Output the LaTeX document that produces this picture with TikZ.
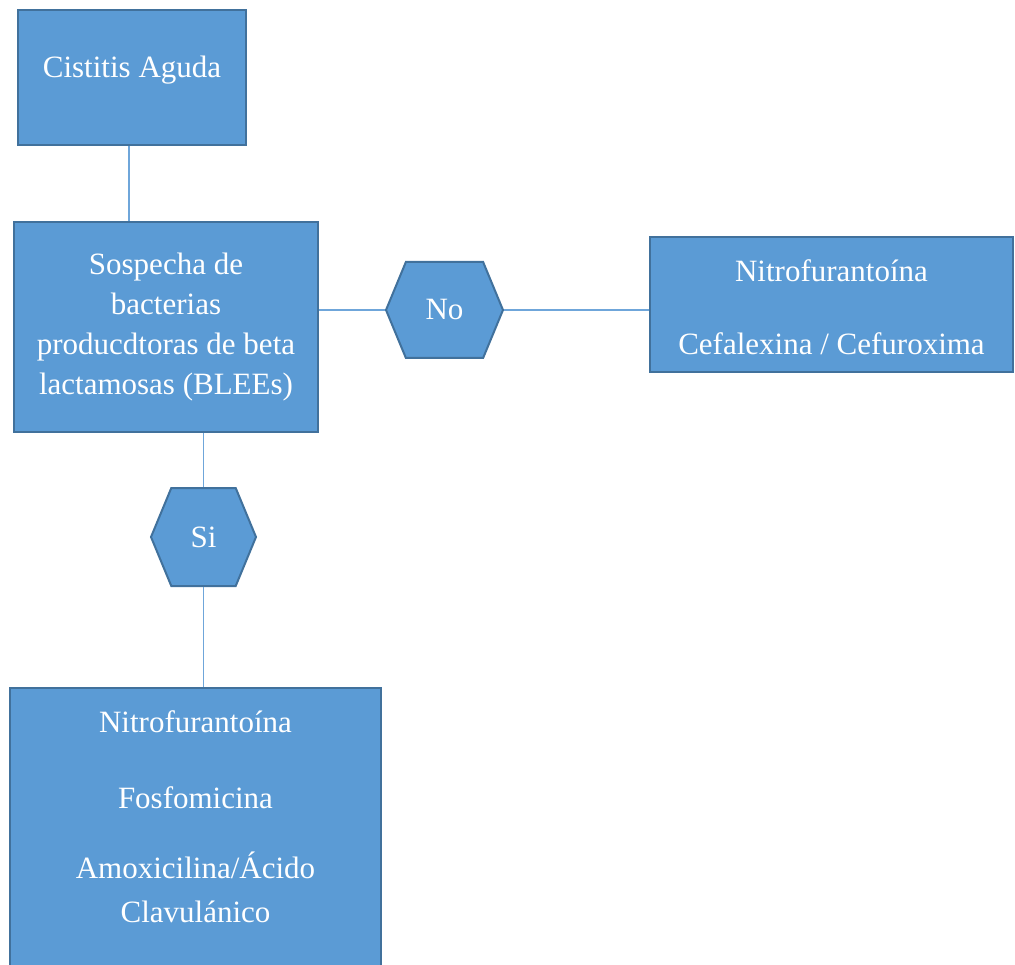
\documentclass[tikz,border=0pt]{standalone}
\usepackage{fontspec}
\setmainfont{Liberation Serif}
\usetikzlibrary{shapes.symbols}
\definecolor{boxfill}{HTML}{5B9BD5}
\definecolor{boxline}{HTML}{41719C}
\definecolor{conn}{HTML}{6FA6DA}
\tikzset{
  box/.style={rectangle, draw=boxline, fill=boxfill, line width=2pt, text=white,
    align=center, inner sep=0pt, font=\fontsize{31}{40}\selectfont},
  hexa/.style={signal, signal to=east and west, signal pointer angle=135,
    draw=boxline, fill=boxfill, line width=2pt, text=white, inner sep=0pt,
    font=\fontsize{31}{40}\selectfont},
  link/.style={draw=conn, line width=1.8pt}
}
\begin{document}
\begin{tikzpicture}[x=1pt,y=-1pt]
\useasboundingbox (0,0) rectangle (1015,965);
\node[box, minimum width=228pt, minimum height=135pt, text height=10pt, text depth=10pt] (cist) at (132,77.5) {Cistitis Aguda};
\node[box, minimum width=304pt, minimum height=210pt] (sosp) at (166,327)
  {Sospecha de\\bacterias\\producdtoras de beta\\lactamosas (BLEEs)};
\node[hexa, minimum width=117pt, minimum height=96pt] (no) at (444.5,310) {No};
\node[box, minimum width=363pt, minimum height=135pt, text height=108pt, text depth=7pt] (right) at (831.5,304.5)
  {Nitrofurantoína\\[33pt]Cefalexina / Cefuroxima};
\node[hexa, minimum width=105pt, minimum height=98pt] (si) at (203.5,537) {Si};
\node[box, minimum width=371pt, minimum height=280pt, text height=196pt, text depth=8pt] (bot) at (195.5,828)
  {Nitrofurantoína\\[36pt]Fosfomicina\\[30pt]Amoxicilina/Ácido\\[4pt]Clavulánico};
\draw[link] ([xshift=-3pt]cist.south) -- ([xshift=-3pt]cist.south |- sosp.north);
\draw[link] (no.west) -- (no.west -| sosp.east);
\draw[link] (no.east) -- (no.east -| right.west);
\draw[link] (si.north) -- (si.north |- sosp.south);
\draw[link] (si.south) -- (si.south |- bot.north);
\end{tikzpicture}
\end{document}
